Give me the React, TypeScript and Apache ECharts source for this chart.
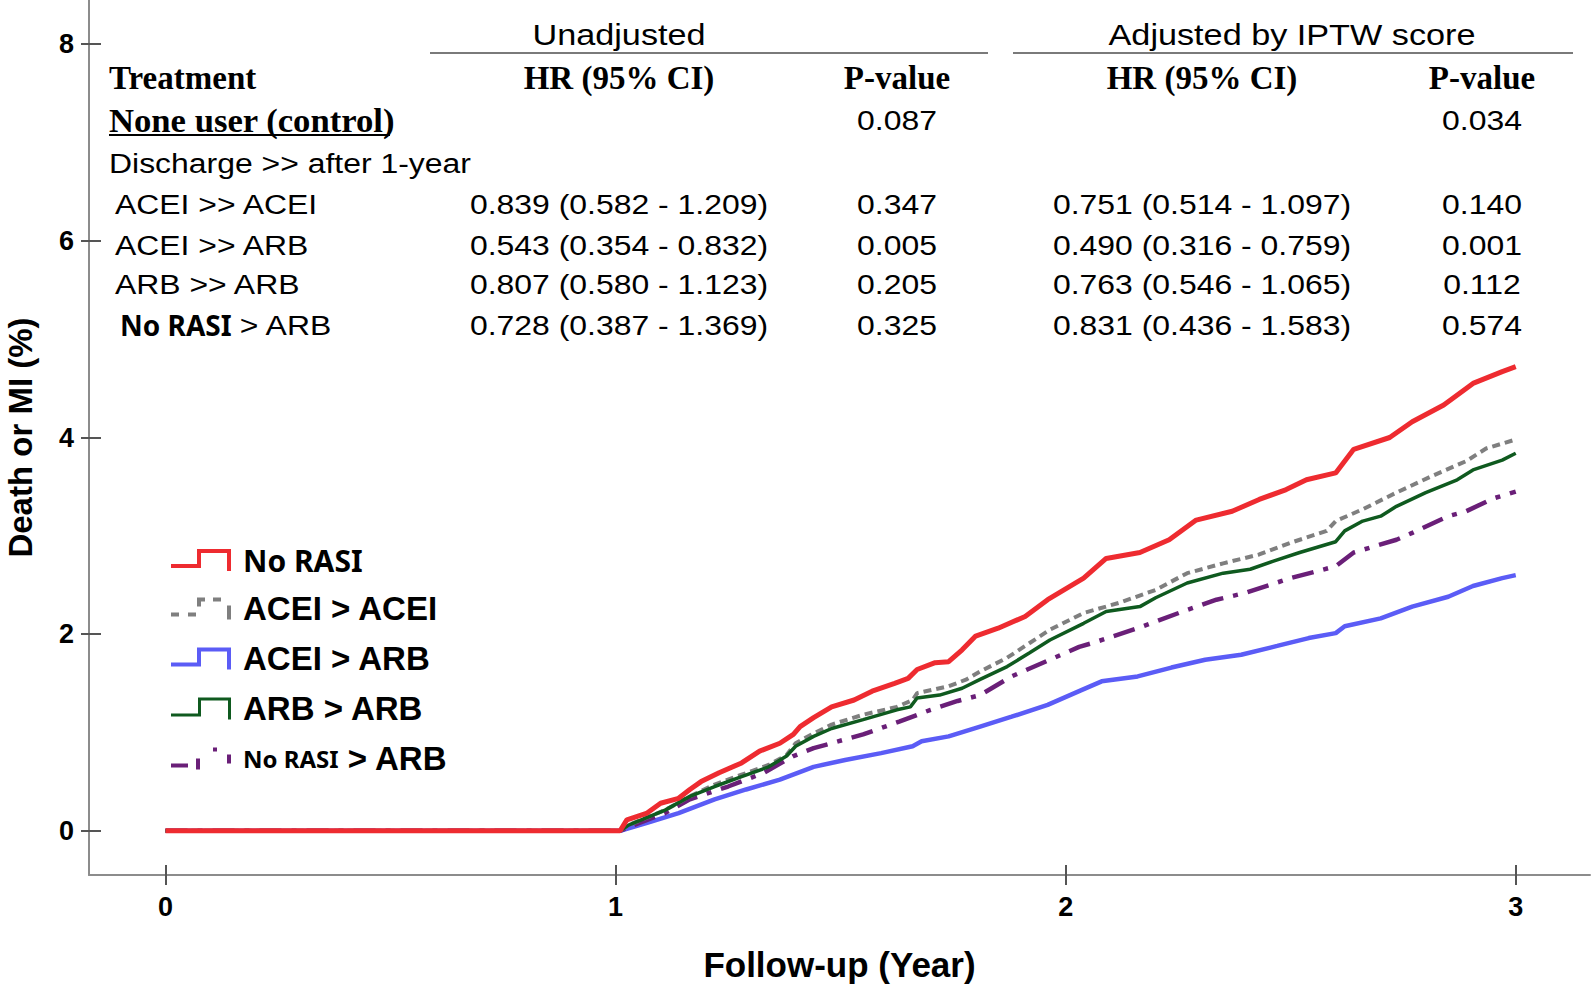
import React, { useEffect, useRef } from 'react';
import * as echarts from 'echarts';

// ---------- data ----------
const xTicks = [0, 1, 2, 3];
const yTicks = [0, 2, 4, 6, 8];

const seriesNames = ['No RASI', 'ACEI > ACEI', 'ACEI > ARB', 'ARB > ARB', 'No RASI > ARB'];

// [follow-up year, cumulative death or MI %]
const noRasi = [
  [0, 0], [1.01, 0], [1.025, 0.11], [1.07, 0.18], [1.1, 0.28], [1.14, 0.33], [1.165, 0.42], [1.19, 0.5],
  [1.23, 0.59], [1.28, 0.69], [1.32, 0.81], [1.365, 0.89], [1.395, 0.98], [1.41, 1.06], [1.44, 1.15],
  [1.48, 1.26], [1.53, 1.33], [1.57, 1.42], [1.62, 1.5], [1.65, 1.55], [1.67, 1.64], [1.71, 1.71],
  [1.74, 1.72], [1.77, 1.84], [1.8, 1.98], [1.85, 2.06], [1.91, 2.18], [1.96, 2.35], [2.04, 2.57],
  [2.09, 2.77], [2.165, 2.83], [2.23, 2.96], [2.29, 3.16], [2.37, 3.25], [2.43, 3.37], [2.49, 3.47],
  [2.535, 3.57], [2.6, 3.64], [2.64, 3.88], [2.72, 4.0], [2.77, 4.16], [2.84, 4.33], [2.905, 4.55],
  [2.97, 4.67], [3.0, 4.72],
];
const aceiAcei = [
  [0, 0], [1.01, 0], [1.03, 0.06], [1.11, 0.21], [1.165, 0.35], [1.22, 0.47], [1.28, 0.57], [1.34, 0.67],
  [1.38, 0.77], [1.4, 0.89], [1.44, 0.99], [1.48, 1.08], [1.55, 1.18], [1.625, 1.26], [1.66, 1.33],
  [1.67, 1.4], [1.74, 1.47], [1.78, 1.54], [1.81, 1.62], [1.87, 1.76], [1.92, 1.91], [1.965, 2.045],
  [2.04, 2.215], [2.12, 2.32], [2.2, 2.45], [2.27, 2.62], [2.35, 2.72], [2.43, 2.81], [2.5, 2.93],
  [2.58, 3.05], [2.6, 3.15], [2.66, 3.27], [2.735, 3.44], [2.81, 3.6], [2.89, 3.76], [2.935, 3.89],
  [3.0, 3.98],
];
const aceiArb = [
  [0, 0], [1.01, 0], [1.07, 0.08], [1.14, 0.18], [1.22, 0.32], [1.29, 0.42], [1.365, 0.52], [1.44, 0.65],
  [1.51, 0.72], [1.59, 0.79], [1.66, 0.86], [1.68, 0.91], [1.74, 0.96], [1.81, 1.06], [1.88, 1.16],
  [1.96, 1.28], [2.035, 1.43], [2.08, 1.52], [2.16, 1.57], [2.235, 1.66], [2.31, 1.74], [2.39, 1.79],
  [2.47, 1.88], [2.54, 1.96], [2.6, 2.01], [2.62, 2.08], [2.7, 2.16], [2.77, 2.28], [2.85, 2.38],
  [2.905, 2.49], [2.97, 2.57], [3.0, 2.6],
];
const arbArb = [
  [0, 0], [1.01, 0], [1.03, 0.06], [1.11, 0.21], [1.165, 0.35], [1.22, 0.45], [1.28, 0.55], [1.34, 0.65],
  [1.38, 0.76], [1.4, 0.86], [1.44, 0.96], [1.48, 1.04], [1.55, 1.13], [1.625, 1.23], [1.655, 1.26],
  [1.67, 1.35], [1.72, 1.38], [1.77, 1.45], [1.81, 1.54], [1.87, 1.67], [1.92, 1.81], [1.965, 1.94],
  [2.04, 2.11], [2.09, 2.23], [2.165, 2.28], [2.2, 2.37], [2.27, 2.52], [2.35, 2.62], [2.41, 2.66],
  [2.46, 2.74], [2.52, 2.83], [2.6, 2.94], [2.62, 3.05], [2.66, 3.15], [2.7, 3.2], [2.735, 3.3],
  [2.8, 3.44], [2.87, 3.57], [2.905, 3.67], [2.97, 3.77], [3.0, 3.84],
];
const noRasiArb = [
  [0, 0], [1.01, 0], [1.03, 0.04], [1.11, 0.18], [1.165, 0.32], [1.25, 0.45], [1.33, 0.59], [1.395, 0.76],
  [1.44, 0.84], [1.55, 0.98], [1.63, 1.11], [1.7, 1.23], [1.76, 1.32], [1.81, 1.38], [1.88, 1.57],
  [1.96, 1.73], [2.03, 1.87], [2.06, 1.91], [2.16, 2.06], [2.26, 2.23], [2.335, 2.35], [2.4, 2.42],
  [2.5, 2.57], [2.6, 2.69], [2.64, 2.83], [2.735, 2.96], [2.77, 3.03], [2.85, 3.2], [2.89, 3.25],
  [2.95, 3.38], [3.0, 3.45],
];

// table texts
const tableGroups = ['Unadjusted', 'Adjusted by IPTW score'];
const tableHeaders = ['Treatment', 'HR (95% CI)', 'P-value'];
const controlLabel = 'None user (control)';
const controlP = ['0.087', '0.034'];
const sectionLabel = 'Discharge >> after 1-year';
const treatLabels = ['ACEI >> ACEI', 'ACEI >> ARB', 'ARB >> ARB', 'No RASI > ARB'];
const unadjHR = ['0.839 (0.582 - 1.209)', '0.543 (0.354 - 0.832)', '0.807 (0.580 - 1.123)', '0.728 (0.387 - 1.369)'];
const unadjP = ['0.347', '0.005', '0.205', '0.325'];
const adjHR = ['0.751 (0.514 - 1.097)', '0.490 (0.316 - 0.759)', '0.763 (0.546 - 1.065)', '0.831 (0.436 - 1.583)'];
const adjP = ['0.140', '0.001', '0.112', '0.574'];

// ---------- styles ----------
const SANS = "'Liberation Sans', Arial, Helvetica, sans-serif";
const SERIF = "'Liberation Serif', 'Times New Roman', serif";
const GOTHIC = "'Noto Sans', 'Open Sans', sans-serif";

const COLORS = {
  red: '#ee2b30',
  gray: '#7f7f7f',
  blue: '#5b5cf6',
  green: '#0f5a1f',
  purple: '#6a1f78',
};

const ICON_STEP = 'path://M0 15 H26 V0 H60 V22 H56 V4 H30 V19 H0 Z';
const ICON_STEP_THIN = 'path://M0 16 H27 V0 H60 V22 H57 V3 H30 V19 H0 Z';
const ICON_GRAY = 'path://M0 15 H8 V19 H0 Z M17 15 H25 V19 H17 Z M26 0 H34 V4 H30 V9 H26 Z M42 0 H50 V4 H42 Z M56 8 H60 V22 H56 Z';
const ICON_PURPLE = 'path://M0 16 H17 V20 H0 Z M25 11 H29 V22 H25 Z M42 0 H46 V4 H42 Z M56 7 H60 V16 H56 Z';

function txt(str: string, x: number, y: number, o: any = {}) {
  return {
    type: 'text',
    x,
    y,
    scaleX: o.sx ?? 1,
    silent: true,
    style: {
      text: str,
      fontFamily: o.ff ?? SANS,
      fontSize: o.fs ?? 28,
      fontWeight: o.fw ?? 'normal',
      fill: '#000',
      align: o.align ?? 'left',
      verticalAlign: 'middle',
    },
  };
}

function hline(x1: number, x2: number, y: number, color: string, w: number) {
  return { type: 'line', silent: true, shape: { x1, y1: y, x2, y2: y }, style: { stroke: color, lineWidth: w } };
}

function buildGraphic() {
  const U_HR = 619, U_P = 897, A_HR = 1202, A_P = 1482;
  const ROW_Y = [77.5, 120.5, 163.5, 204, 245, 284.5, 325];
  const VAL = { fs: 28, sx: 1.14, align: 'center' };
  const HEAD = { ff: SERIF, fw: 'bold', fs: 33, align: 'center' };
  const g: any[] = [];
  g.push(txt(tableGroups[0], U_HR, 35, { fs: 29, sx: 1.18, align: 'center' }));
  g.push(txt(tableGroups[1], 1292, 35, { fs: 29, sx: 1.18, align: 'center' }));
  g.push(hline(430, 988, 53, '#7a7a7a', 2));
  g.push(hline(1013, 1573, 53, '#7a7a7a', 2));
  g.push(txt(tableHeaders[0], 109, ROW_Y[0], { ff: SERIF, fw: 'bold', fs: 33 }));
  g.push(txt(tableHeaders[1], U_HR, ROW_Y[0], HEAD));
  g.push(txt(tableHeaders[2], U_P, ROW_Y[0], HEAD));
  g.push(txt(tableHeaders[1], A_HR, ROW_Y[0], HEAD));
  g.push(txt(tableHeaders[2], A_P, ROW_Y[0], HEAD));
  g.push(txt(controlLabel, 109, ROW_Y[1], { ff: SERIF, fw: 'bold', fs: 33, sx: 1.05 }));
  g.push(hline(109, 390, 135, '#000', 2));
  g.push(txt(controlP[0], U_P, ROW_Y[1], VAL));
  g.push(txt(controlP[1], A_P, ROW_Y[1], VAL));
  g.push(txt(sectionLabel, 109, ROW_Y[2], { fs: 28, sx: 1.14 }));
  treatLabels.forEach((lab, i) => {
    const y = ROW_Y[3 + i];
    if (lab.startsWith('No RASI')) {
      g.push(txt('No RASI', 120, y, { ff: GOTHIC, fw: 'bold', fs: 28 }));
      g.push(txt(lab.replace('No RASI', ''), 231, y, { fs: 28, sx: 1.14 }));
    } else {
      g.push(txt(lab, 115, y, { fs: 28, sx: 1.14 }));
    }
    g.push(txt(unadjHR[i], U_HR, y, VAL));
    g.push(txt(unadjP[i], U_P, y, VAL));
    g.push(txt(adjHR[i], A_HR, y, VAL));
    g.push(txt(adjP[i], A_P, y, VAL));
  });
  return g;
}

const X_MIN = -0.17, X_MAX = 3.165;
const Y_MIN = -0.45, Y_MAX = 8.45;
const AXIS_COLOR = '#8c8c8c';
const TICK_COLOR = '#555';

export default function App() {
  const ref = useRef<HTMLDivElement>(null);
  useEffect(() => {
    if (!ref.current) return;
    const chart = echarts.init(ref.current, null, { renderer: 'svg' });
    const line = (name: string, data: number[][], color: string, width: number, type: any, z: number) => ({
      type: 'line',
      name,
      data,
      xAxisIndex: 0,
      yAxisIndex: 0,
      symbol: 'none',
      showSymbol: false,
      z,
      itemStyle: { color },
      lineStyle: { color, width, type, cap: 'butt' },
    });
    const option: any = {
      animation: false,
      backgroundColor: '#ffffff',
      grid: { left: 89, right: 3, top: 0, bottom: 111, containLabel: false, outerBoundsMode: 'none' },
      xAxis: [
        {
          type: 'value', min: X_MIN, max: X_MAX, position: 'bottom',
          axisLine: { show: true, onZero: false, lineStyle: { color: AXIS_COLOR, width: 2 } },
          axisTick: { show: true, length: 10, customValues: xTicks, lineStyle: { color: TICK_COLOR, width: 2 } },
          axisLabel: { show: true, customValues: xTicks, margin: 18, fontFamily: SANS, fontWeight: 'bold', fontSize: 27, color: '#000' },
          splitLine: { show: false },
          name: 'Follow-up (Year)', nameLocation: 'middle', nameGap: 72,
          nameTextStyle: { fontFamily: SANS, fontWeight: 'bold', fontSize: 35, color: '#000' },
        },
        {
          type: 'value', min: X_MIN, max: X_MAX, position: 'bottom',
          axisLine: { show: false, onZero: false },
          axisTick: { show: true, inside: true, length: 10, customValues: xTicks, lineStyle: { color: TICK_COLOR, width: 2 } },
          axisLabel: { show: false },
          splitLine: { show: false },
        },
      ],
      yAxis: [
        {
          type: 'value', min: Y_MIN, max: Y_MAX, position: 'left',
          axisLine: { show: true, onZero: false, lineStyle: { color: AXIS_COLOR, width: 2 } },
          axisTick: { show: true, length: 8, customValues: yTicks, lineStyle: { color: TICK_COLOR, width: 2 } },
          axisLabel: { show: true, customValues: yTicks, margin: 15, fontFamily: SANS, fontWeight: 'bold', fontSize: 27, color: '#000' },
          splitLine: { show: false },
          name: 'Death or MI (%)', nameLocation: 'middle', nameGap: 52,
          nameTextStyle: { fontFamily: SANS, fontWeight: 'bold', fontSize: 33, color: '#000' },
        },
        {
          type: 'value', min: Y_MIN, max: Y_MAX, position: 'left',
          axisLine: { show: false, onZero: false },
          axisTick: { show: true, inside: true, length: 12, customValues: yTicks, lineStyle: { color: TICK_COLOR, width: 2 } },
          axisLabel: { show: false },
          splitLine: { show: false },
        },
      ],
      legend: {
        orient: 'vertical',
        left: 171,
        top: 545,
        padding: 0,
        itemWidth: 62,
        itemHeight: 22,
        itemGap: 17,
        selectedMode: false,
        itemStyle: { borderWidth: 0 },
        data: [
          { name: seriesNames[0], icon: ICON_STEP },
          { name: seriesNames[1], icon: ICON_GRAY },
          { name: seriesNames[2], icon: ICON_STEP },
          { name: seriesNames[3], icon: ICON_STEP_THIN },
          { name: seriesNames[4], icon: ICON_PURPLE },
        ],
        formatter: (name: string) => {
          if (name === 'No RASI') return '{k|No RASI}';
          if (name === 'No RASI > ARB') return '{ks|No RASI}{a2| > ARB}';
          return '{a|' + name + '}';
        },
        textStyle: {
          rich: {
            k: { fontFamily: GOTHIC, fontWeight: 'bold', fontSize: 30, lineHeight: 30, color: '#000', padding: [0, 0, 0, 6] },
            ks: { fontFamily: GOTHIC, fontWeight: 'bold', fontSize: 24, lineHeight: 30, color: '#000', padding: [0, 0, 0, 6] },
            a: { fontFamily: SANS, fontWeight: 'bold', fontSize: 33, lineHeight: 30, color: '#000', padding: [0, 0, 0, 6] },
            a2: { fontFamily: SANS, fontWeight: 'bold', fontSize: 33, lineHeight: 30, color: '#000' },
          },
        },
      },
      series: [
        line(seriesNames[2], aceiArb, COLORS.blue, 4.5, 'solid', 2),
        line(seriesNames[4], noRasiArb, COLORS.purple, 4.5, [22, 10, 5, 10], 3),
        line(seriesNames[1], aceiAcei, COLORS.gray, 4, [8, 5], 4),
        line(seriesNames[3], arbArb, COLORS.green, 3.5, 'solid', 5),
        line(seriesNames[0], noRasi, COLORS.red, 5, 'solid', 6),
      ],
      graphic: buildGraphic(),
    };
    chart.setOption(option);
    return () => chart.dispose();
  }, []);
  return <div ref={ref} style={{ position: 'fixed', left: 0, top: 0, width: 1593, height: 986, background: '#fff' }} />;
}
